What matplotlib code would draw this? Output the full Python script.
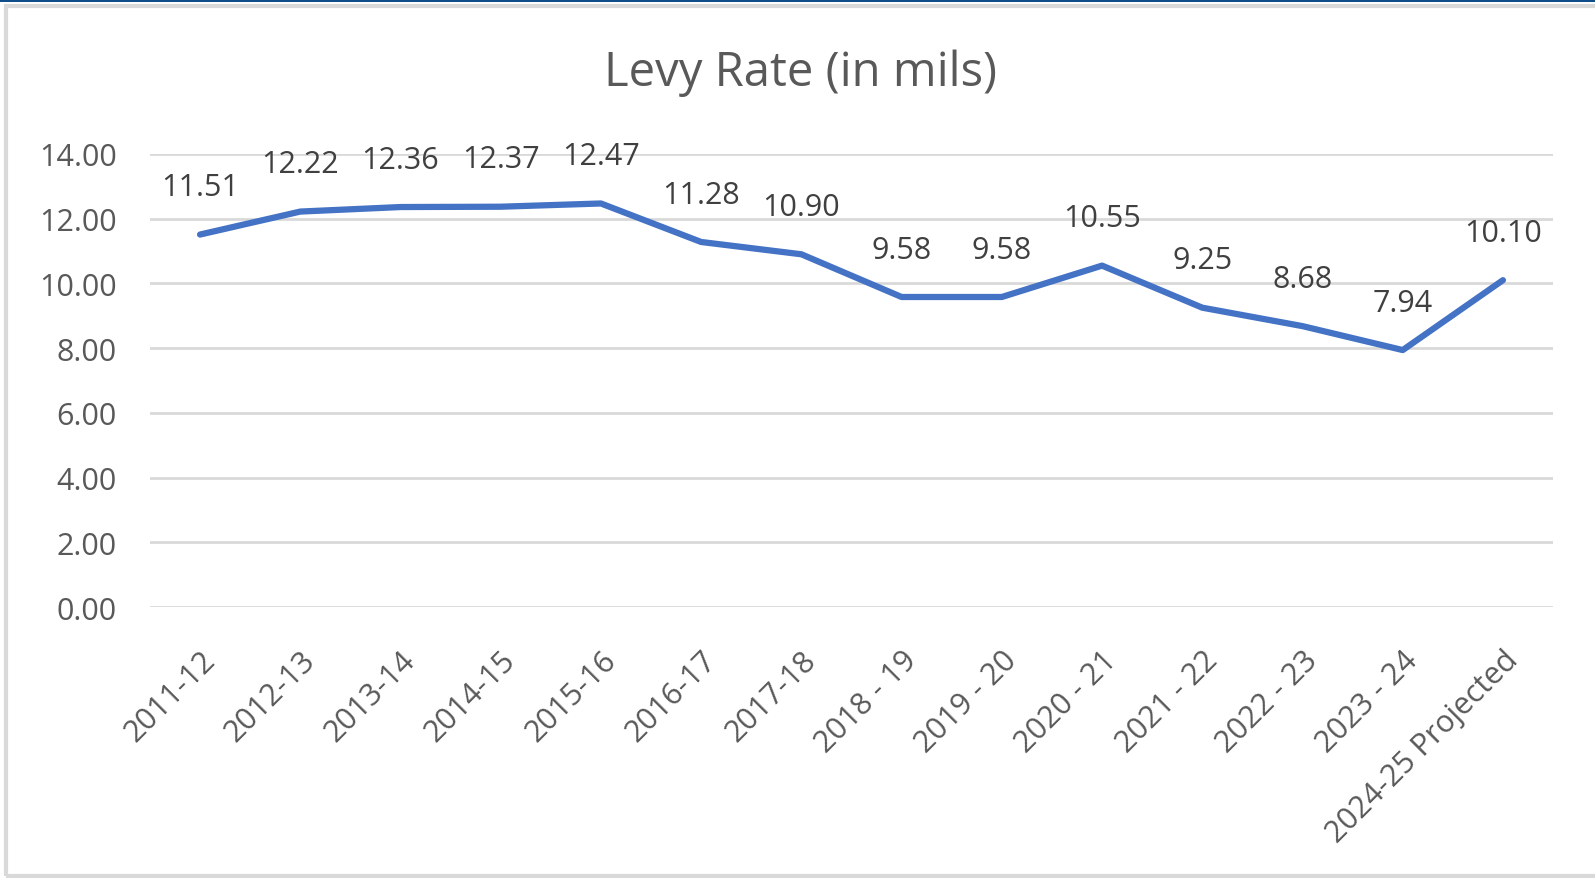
import matplotlib
matplotlib.use('Agg')
from matplotlib import pyplot as plt
from matplotlib.patches import Rectangle
import numpy as np

plt.rcParams['font.family'] = ['Open Sans', 'DejaVu Sans']

years = ['2011-12', '2012-13', '2013-14', '2014-15', '2015-16', '2016-17', '2017-18',
         '2018 - 19', '2019 - 20', '2020 - 21', '2021 - 22', '2022 - 23', '2023 - 24',
         '2024-25 Projected']
levy = [11.51, 12.22, 12.36, 12.37, 12.47, 11.28, 10.90, 9.58, 9.58, 10.55, 9.25, 8.68, 7.94, 10.10]
yticks = [0, 2, 4, 6, 8, 10, 12, 14]

txt_color = '#595959'

fig = plt.figure(figsize=(15.95, 8.79), dpi=100)
fig.patch.set_facecolor('white')
ax = fig.add_axes([0.094, 0.3083, 0.8797, 0.5154])

x = np.arange(len(years))
ax.plot(x, levy, color='#4472C4', linewidth=4.5, solid_capstyle='round', solid_joinstyle='round', zorder=3)

for xi, v in zip(x, levy):
    ax.annotate(f'{v:.2f}', (xi, v), xytext=(0, 34), textcoords='offset points',
                ha='center', va='center', fontsize=22, color='#404040')

ax.set_xlim(-0.5, len(years) - 0.5)
ax.set_ylim(0, 14)
ax.set_yticks(yticks)
ax.set_yticklabels([f'{t:.2f}' for t in yticks], fontsize=22, color=txt_color)
ax.set_xticks(x)
ax.set_xticklabels(years, rotation=45, ha='right', va='top', rotation_mode='anchor',
                   fontsize=22, color=txt_color)
ax.tick_params(axis='y', length=0, pad=24)
ax.tick_params(axis='x', length=0, pad=27)
ax.grid(axis='y', color='#d9d9d9', linewidth=2)
ax.set_axisbelow(True)
for s in ax.spines.values():
    s.set_visible(False)

fig.text(0.5016, 0.917, 'Levy Rate (in mils)', ha='center', va='center', fontsize=34, color=txt_color)

# ramme rundt figuren
fig.patches.append(Rectangle((6 / 1595, 2 / 879), 1.1, 870 / 879, transform=fig.transFigure,
                             fill=False, edgecolor='#d9d9d9', linewidth=3))
fig.patches.append(Rectangle((0, 1 - 3 / 879), 1, 3 / 879, transform=fig.transFigure,
                             facecolor='#0F4C8A', edgecolor='none'))

fig.savefig('out.png', dpi=100)
